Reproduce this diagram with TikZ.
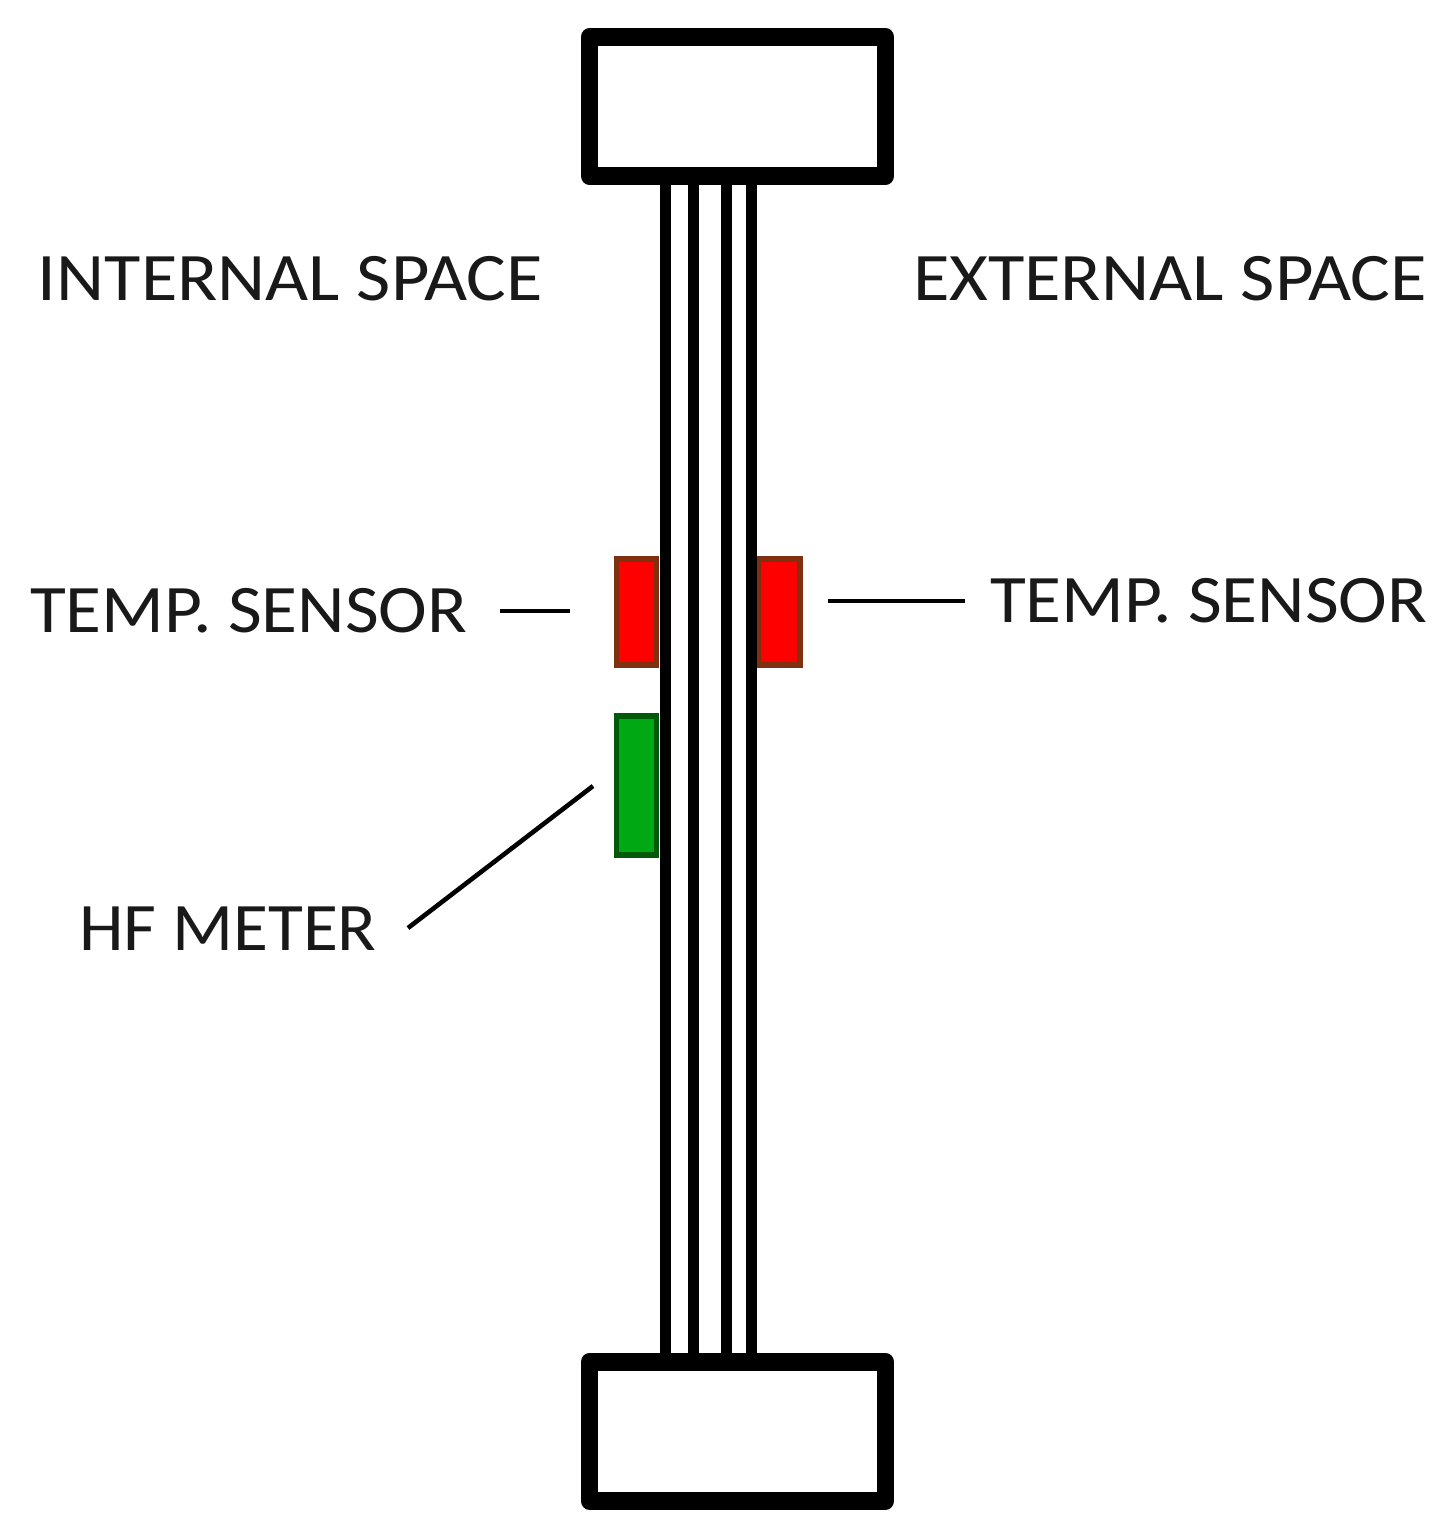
\documentclass[tikz,border=0pt]{standalone}
\usepackage{fontspec}
\setmainfont{Carlito}
\begin{document}
\begin{tikzpicture}[x=0.5pt,y=-0.5pt,
  wall/.style={line width=5.5pt,black},
  frame/.style={draw=black,fill=white,line width=8.75pt,line join=round,inner sep=0pt,outer sep=0pt,minimum width=148pt,minimum height=69.5pt},
  sensorred/.style={draw=sensorredline,fill=red,line width=2.75pt,inner sep=0pt,outer sep=0pt,minimum width=20pt,minimum height=53pt},
  sensorgreen/.style={draw=sensorgreenline,fill=sensorgreenfill,line width=2.75pt,inner sep=0pt,outer sep=0pt,minimum width=20pt,minimum height=69.5pt},
  leader/.style={line width=2.3pt,black},
  lab/.style={anchor=base west,inner sep=0pt,outer sep=0pt,font=\fontsize{34}{34}\selectfont,text=black!90}]
\definecolor{sensorredline}{HTML}{7F3010}
\definecolor{sensorgreenline}{HTML}{005A0A}
\definecolor{sensorgreenfill}{HTML}{00A813}
\useasboundingbox (0,0) rectangle (1448,1531);
\fill[white] (0,0) rectangle (1448,1531);
% sensors
\node[sensorred] (tl) at (636.5,612) {};
\node[sensorred,minimum width=20.75pt] (tr) at (779.25,612) {};
\node[sensorgreen] (hf) at (636.5,785.5) {};
% wall layers
\coordinate (a1) at (665,170); \coordinate (b1) at (665,1370);
\coordinate (a2) at (693,170); \coordinate (b2) at (693,1370);
\coordinate (a3) at (726,170); \coordinate (b3) at (726,1370);
\coordinate (a4) at (751.5,170); \coordinate (b4) at (751.5,1370);
\draw[wall] (a1) -- (b1);
\draw[wall] (a2) -- (b2);
\draw[wall] (a3) -- (b3);
\draw[wall] (a4) -- (b4);
% frames
\node[frame] (top) at (737.5,106.5) {};
\node[frame] (bot) at (737.5,1431.25) {};
% labels
\node[lab] (int) at (38,300) {\scalebox{1.094}[1]{INTERNAL SPACE}};
\node[lab] (ext) at (913,300) {\scalebox{1.097}[1]{EXTERNAL SPACE}};
\node[lab] (tsl) at (30,632) {\scalebox{1.08}[1]{TEMP. SENSOR}};
\node[lab] (tsr) at (990,622) {\scalebox{1.08}[1]{TEMP. SENSOR}};
\node[lab] (hfl) at (79,950) {\scalebox{1.05}[1]{HF METER}};
% leaders
\coordinate (l1a) at (500,611); \coordinate (l1b) at (570,611);
\coordinate (l2a) at (828,601); \coordinate (l2b) at (965,601);
\coordinate (l3a) at (408,928); \coordinate (l3b) at (593,786);
\draw[leader] (l1a) -- (l1b);
\draw[leader] (l2a) -- (l2b);
\draw[leader] (l3a) -- (l3b);
\end{tikzpicture}
\end{document}
